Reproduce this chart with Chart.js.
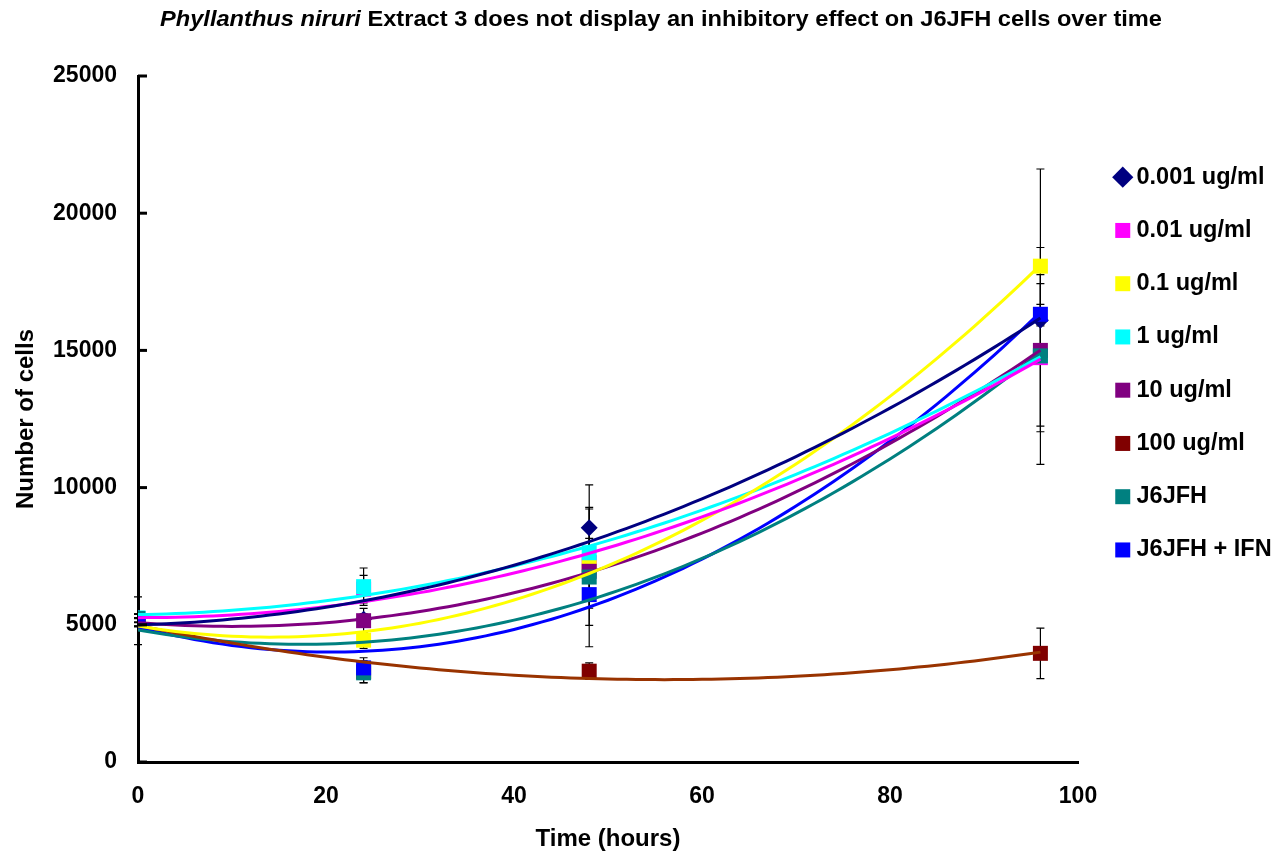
<!DOCTYPE html>
<html lang="en">
  <head>
    <meta charset="UTF-8" />
    <title>Phyllanthus niruri Extract 3 - J6JFH cells over time</title>
    <script src="https://cdn.jsdelivr.net/npm/chart.js@4"></script>
    <style>
      html, body { margin: 0; padding: 0; background: #fff; }
    </style>
  </head>
  <body>
    <canvas id="cellChart" width="1272" height="856"></canvas>
    <script>
      // time points (hours)
      const hours = [0, 24, 48, 96];

      const seriesNames = [
        "0.001 ug/ml", "0.01 ug/ml", "0.1 ug/ml", "1 ug/ml",
        "10 ug/ml", "100 ug/ml", "J6JFH", "J6JFH + IFN"
      ];

      // number of cells
      const cells0001 = [5250, 5200, 8540, 16095];
      const cells001 = [5090, 6300, 7264, 14736];
      const cells01 = [5070, 4440, 7100, 18070];
      const cells1 = [5250, 6390, 7625, 14810];
      const cells10 = [5100, 5150, 6950, 15000];
      const cells100 = [5110, 3290, 3310, 3960];
      const cellsJ6 = [5230, 3250, 6740, 14800];
      const cellsJ6IFN = [5150, 3430, 6100, 16316];

      // error bar half-heights
      const err0001 = [150, 200, 1560, 200];
      const err001 = [150, 500, 300, 2700];
      const err01 = [150, 300, 2120, 3540];
      const err1 = [150, 680, 525, 250];
      const err10 = [150, 450, 300, 2760];
      const err100 = [150, 400, 300, 920];
      const errJ6 = [150, 370, 2540, 3950];
      const errJ6IFN = [870, 370, 490, 360];

      const yTickValues = [0, 5000, 10000, 15000, 20000, 25000];
      const xTickValues = [0, 20, 40, 60, 80, 100];

      const allCells = [cells0001, cells001, cells01, cells1, cells10, cells100, cellsJ6, cellsJ6IFN];
      const allErrs = [err0001, err001, err01, err1, err10, err100, errJ6, errJ6IFN];
      const markerColors = ["#000080", "#FF00FF", "#FFFF00", "#00FFFF", "#800080", "#800000", "#008080", "#0000FF"];
      const lineColors = ["#000080", "#FF00FF", "#FFFF00", "#00FFFF", "#800080", "#993300", "#008080", "#0000FF"];

      const FONT = '"Liberation Sans", Arial, sans-serif';
      Chart.defaults.font.family = FONT;
      Chart.defaults.color = "#000";

      // 2nd order polynomial trendline (least squares), like the spreadsheet did
      function quadFit(xs, ys) {
        let s = [0, 0, 0, 0, 0], t = [0, 0, 0];
        xs.forEach((x, i) => {
          for (let k = 0; k < 5; k++) s[k] += Math.pow(x, k);
          for (let k = 0; k < 3; k++) t[k] += ys[i] * Math.pow(x, k);
        });
        const m = [
          [s[0], s[1], s[2], t[0]],
          [s[1], s[2], s[3], t[1]],
          [s[2], s[3], s[4], t[2]]
        ];
        for (let c = 0; c < 3; c++) {
          for (let r = c + 1; r < 3; r++) {
            const f = m[r][c] / m[c][c];
            for (let k = c; k < 4; k++) m[r][k] -= f * m[c][k];
          }
        }
        const a = [0, 0, 0];
        for (let r = 2; r >= 0; r--) {
          let v = m[r][3];
          for (let k = r + 1; k < 3; k++) v -= m[r][k] * a[k];
          a[r] = v / m[r][r];
        }
        return (x) => a[0] + a[1] * x + a[2] * x * x;
      }

      const markerSets = allCells.map((vals, i) => ({
        label: seriesNames[i],
        data: hours.map((h, j) => ({ x: h, y: vals[j] })),
        backgroundColor: markerColors[i],
        borderColor: markerColors[i],
        borderWidth: 0,
        pointStyle: i === 0 ? "rectRot" : "rect",
        pointRadius: i === 0 ? 8.5 : 10.6,
        pointHoverRadius: i === 0 ? 8.5 : 10.6,
        showLine: false,
        order: 8 - i
      }));

      const trendSets = allCells.map((vals, i) => {
        const f = quadFit(hours, vals);
        const pts = [];
        for (let h = hours[0]; h <= hours[hours.length - 1]; h += 1) pts.push({ x: h, y: f(h) });
        return {
          label: "trend " + seriesNames[i],
          data: pts,
          showLine: true,
          borderColor: lineColors[i],
          borderWidth: 3,
          pointRadius: 0,
          tension: 0,
          order: 0
        };
      });

      const errorBars = {
        id: "errorBars",
        beforeDatasetsDraw(chart) {
          const { ctx, scales: { x, y } } = chart;
          ctx.save();
          ctx.strokeStyle = "#000";
          ctx.lineWidth = 1.2;
          allCells.forEach((vals, i) => {
            vals.forEach((v, j) => {
              const px = x.getPixelForValue(hours[j]);
              const top = y.getPixelForValue(v + allErrs[i][j]);
              const bot = y.getPixelForValue(v - allErrs[i][j]);
              ctx.beginPath();
              ctx.moveTo(px, top); ctx.lineTo(px, bot);
              ctx.moveTo(px - 4, top); ctx.lineTo(px + 4, top);
              ctx.moveTo(px - 4, bot); ctx.lineTo(px + 4, bot);
              ctx.stroke();
            });
          });
          ctx.restore();
        },
        afterDatasetsDraw(chart) {
          // inward tick marks on the value axis
          const { ctx, chartArea, scales: { y } } = chart;
          ctx.save();
          ctx.strokeStyle = "#000";
          ctx.lineWidth = 3;
          yTickValues.forEach((v) => {
            const py = y.getPixelForValue(v);
            ctx.beginPath();
            ctx.moveTo(chartArea.left, py);
            ctx.lineTo(chartArea.left + 9, py);
            ctx.stroke();
          });
          ctx.restore();
        }
      };

      const mixedTitle = {
        id: "mixedTitle",
        afterInit(chart) {
          // fixed legend width so the plot area ends where the original does
          const legend = chart.legend;
          const fit = legend.fit;
          legend.fit = function () {
            fit.call(this);
            this.width = 194;
          };
        },
        afterLayout(chart) {
          chart.legend.left += 13;
          chart.legend.right += 13;
        },
        afterDraw(chart) {
          const ctx = chart.ctx;
          const part1 = "Phyllanthus niruri";
          const part2 = " Extract 3 does not display an inhibitory effect on J6JFH cells over time";
          ctx.save();
          ctx.fillStyle = "#000";
          ctx.textBaseline = "middle";
          ctx.font = "italic bold 22px " + FONT;
          const w1 = ctx.measureText(part1).width;
          ctx.font = "bold 22px " + FONT;
          const w2 = ctx.measureText(part2).width;
          const sx = 1002 / (w1 + w2);
          ctx.translate(160, 20);
          ctx.scale(sx, 1);
          ctx.font = "italic bold 22px " + FONT;
          ctx.fillText(part1, 0, 0);
          ctx.font = "bold 22px " + FONT;
          ctx.fillText(part2, w1, 0);
          ctx.restore();
        }
      };

      const ctx = document.getElementById("cellChart").getContext("2d");
      new Chart(ctx, {
        type: "scatter",
        data: { datasets: [...markerSets, ...trendSets] },
        options: {
          responsive: false,
          animation: false,
          layout: { padding: { top: 76, left: 0, right: 0, bottom: 0 } },
          plugins: {
            tooltip: { enabled: false },
            legend: {
              position: "right",
              align: "start",
              title: { display: true, text: "", padding: { top: 45.3, bottom: 0 } },
              labels: {
                usePointStyle: true,
                boxWidth: 4,
                boxHeight: 15,
                padding: 29.75,
                color: "#000",
                font: { size: 23.5, weight: "bold" },
                filter: (item) => item.datasetIndex < seriesNames.length,
                sort: (a, b) => a.datasetIndex - b.datasetIndex
              }
            }
          },
          scales: {
            x: {
              type: "linear",
              min: 0,
              max: 100,
              afterBuildTicks: (s) => { s.ticks = xTickValues.map((v) => ({ value: v })); },
              ticks: { padding: 21, color: "#000", font: { size: 23, weight: "bold" }, callback: (v) => String(v) },
              grid: { drawOnChartArea: false, drawTicks: false },
              border: { color: "#000", width: 3 },
              title: {
                display: true,
                text: "Time (hours)",
                color: "#000",
                font: { size: 24, weight: "bold" },
                padding: { top: 0, bottom: 2 }
              },
              afterFit: (s) => { s.height = 94; }
            },
            y: {
              min: 0,
              max: 25000,
              afterBuildTicks: (s) => { s.ticks = yTickValues.map((v) => ({ value: v })); },
              ticks: { padding: 21, color: "#000", font: { size: 23, weight: "bold" }, callback: (v) => String(v) },
              grid: { drawOnChartArea: false, drawTicks: false },
              border: { color: "#000", width: 3 },
              title: {
                display: true,
                text: "Number of cells",
                color: "#000",
                font: { size: 24, weight: "bold" },
                padding: { top: 12, bottom: 0 }
              },
              afterFit: (s) => { s.width = 138; }
            }
          }
        },
        plugins: [errorBars, mixedTitle]
      });
    </script>
  </body>
</html>
